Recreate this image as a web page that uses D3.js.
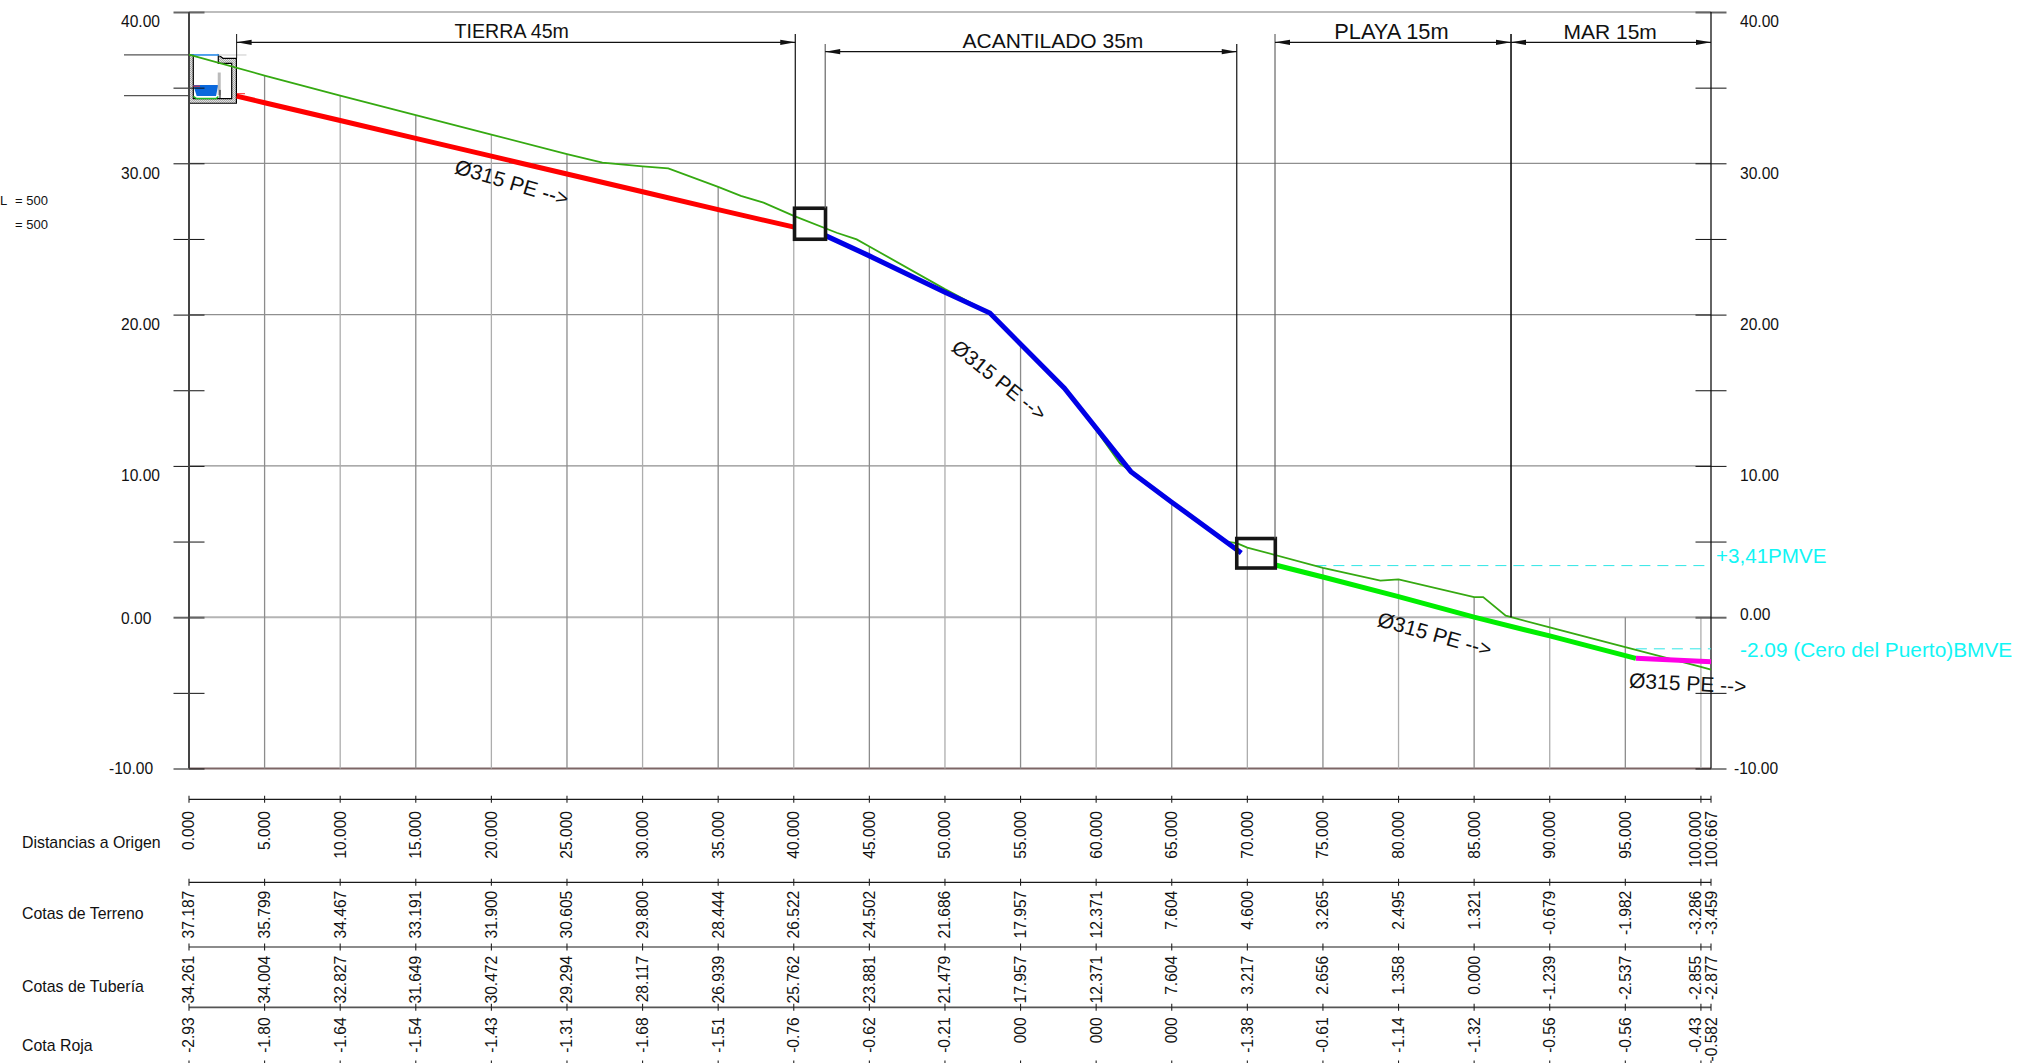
<!DOCTYPE html>
<html>
<head>
<meta charset="utf-8">
<script src="https://cdn.jsdelivr.net/npm/d3@7"></script>
<style>
html,body{margin:0;padding:0;background:#fff;overflow:hidden}
text{font-family:"Liberation Sans",Arial,sans-serif;fill:#111}
</style>
</head>
<body>
<svg id="c" width="2018" height="1063"></svg>
<script>
// ---- table data ----
const distances = [0,5,10,15,20,25,30,35,40,45,50,55,60,65,70,75,80,85,90,95,100,100.667];
const distLabels = ["0.000","5.000","10.000","15.000","20.000","25.000","30.000","35.000","40.000","45.000","50.000","55.000","60.000","65.000","70.000","75.000","80.000","85.000","90.000","95.000","100.000","100.667"];
const terrainLabels = ["37.187","35.799","34.467","33.191","31.900","30.605","29.800","28.444","26.522","24.502","21.686","17.957","12.371","7.604","4.600","3.265","2.495","1.321","-0.679","-1.982","-3.286","-3.459"];
const pipeLabels = ["34.261","34.004","32.827","31.649","30.472","29.294","28.117","26.939","25.762","23.881","21.479","17.957","12.371","7.604","3.217","2.656","1.358","0.000","-1.239","-2.537","-2.855","-2.877"];
const redLabels = ["-2.93","-1.80","-1.64","-1.54","-1.43","-1.31","-1.68","-1.51","-0.76","-0.62","-0.21","000","000","000","-1.38","-0.61","-1.14","-1.32","-0.56","-0.56","-0.43","-0.582"];
const rowNames = ["Distancias a Origen","Cotas de Terreno","Cotas de Tubería","Cota Roja"];

// ---- profile data: [distance m, elevation m] ----
const terrain = [[0,37.187],[5,35.799],[10,34.467],[15,33.191],[20,31.9],[25,30.605],[27.34,30.04],[30,29.8],[31.7,29.67],[35,28.444],[36.5,27.85],[38,27.4],[40,26.522],[42.84,25.41],[44.16,24.97],[45,24.502],[50,21.686],[52.97,20.1],[55,17.957],[57.9,15.13],[60,12.371],[61.57,10.17],[62.3,9.62],[65,7.604],[68.6,5.0],[69.3,4.9],[70,4.6],[75,3.265],[78.8,2.42],[80,2.495],[85,1.321],[85.6,1.33],[87.09,0.1],[90,-0.679],[95,-1.982],[100,-3.286],[100.667,-3.459]];
const pipeRed = [[3.15,34.44],[5,34.004],[10,32.827],[15,31.649],[20,30.472],[25,29.294],[30,28.117],[35,26.939],[40.1,25.762]];
const pipeBlue = [[42.1,25.22],[45,23.881],[50,21.479],[52.97,20.1],[57.9,15.13],[62.3,9.62],[65,7.604],[69.6,4.25]];
const pipeGreen = [[71.85,3.45],[75,2.656],[80,1.358],[85,0],[90,-1.239],[95.7,-2.72]];
const pipeMagenta = [[95.7,-2.72],[100.667,-2.95]];
const chamberBoxes = [[40.05,42.1,27.03,24.98],[69.3,71.85,5.2,3.25]];

// ---- reference levels ----
const levels = [{v:3.41,from:74.5,label:"+3,41PMVE"},{v:-2.09,from:95.7,label:"-2.09 (Cero del Puerto)BMVE"}];

// ---- dimension spans ----
const spans = [
 {a:3.15,b:40.1,at:21.35,label:"TIERRA 45m",low:false,size:19.6},
 {a:42.08,b:69.3,at:57.14,label:"ACANTILADO 35m",low:true,size:21},
 {a:71.83,b:87.44,at:79.53,label:"PLAYA 15m",low:false,size:21.8},
 {a:87.44,b:100.667,at:94.0,label:"MAR 15m",low:false,size:21}];

// ---- axis ----
const majorTicks = [40,30,20,10,0,-10];
const majorLabels = ["40.00","30.00","20.00","10.00","0.00","-10.00"];
const invertLevels = [37.16,34.47];

// ---- chamber section (distance m, elevation m) ----
const wall = [[0,37.16],[0.284,37.16],[0.284,34.28],[2.824,34.28],[2.824,36.61],[1.938,36.61],[1.938,37.16],[2.249,36.94],[3.135,36.94],[3.135,33.97],[0,33.97]];
const water = [[0.284,35.175],[1.938,35.175],[1.786,34.45],[0.51,34.45]];
const sump = [[0.284,34.42],[0.5,34.28],[1.8,34.28],[1.94,34.42]];
const chamberTop = [[0,37.16],[1.98,37.16]];
const chamberTopExt = [[1.98,37.16],[3.8,37.16]];
const innerPipe = [[2,36],[2,34.5]];
const innerStop = [[2.05,34.85],[2.05,34.28]];
const redMarks = [[[0.284,35.1],[0.73,35.1]],[[3.15,34.6],[3.7,34.6]]];

// ---- pipe labels ----
const pipeNotes = [
 {x:21.35,y:28.73,r:16.5,size:21,t:"Ø315 PE -->"},
 {x:53.6,y:15.67,r:39,size:20.5,t:"Ø315 PE -->"},
 {x:82.4,y:-1.13,r:15.5,size:21,t:"Ø315 PE -->"},
 {x:99.13,y:-4.37,r:3,size:21,t:"Ø315 PE -->"}];

const svg = d3.select("#c");
const x = d3.scaleLinear().domain([0,100.667]).range([189,1711]);
const y = d3.scaleLinear().domain([-10,40]).range([768.5,12]);
const line = d3.line().x(d=>x(d[0])).y(d=>y(d[1]));

svg.append("rect").attr("width",2018).attr("height",1063).attr("fill","#fff");

// horizontal grid
const gridCol = v => v===40 ? "#bdbdbd" : v===0 ? "#b4b4b4" : "#8f8f8f";
svg.append("g").selectAll("line").data(majorTicks.filter(v=>v!==-10)).join("line")
  .attr("x1",x(0)).attr("x2",x(100.667)).attr("y1",d=>y(d)).attr("y2",d=>y(d))
  .attr("stroke",gridCol).attr("stroke-width",d=>(d===40||d===0)?2:1.3);
svg.append("line").attr("x1",x(0)).attr("x2",x(100.667)).attr("y1",y(-10)).attr("y2",y(-10))
  .attr("stroke","#7d6666").attr("stroke-width",2);

// vertical grid, from the ground (or the zero line) down
const elev = d3.scaleLinear().domain(terrain.map(d=>d[0])).range(terrain.map(d=>d[1]));
svg.append("g").selectAll("line").data(distances.slice(1,-1)).join("line")
  .attr("x1",d=>x(d)).attr("x2",d=>x(d)).attr("y1",d=>y(Math.max(elev(d),0))).attr("y2",y(-10))
  .attr("stroke",(d,i)=>i%2?"#adadad":"#8c8c8c").attr("stroke-width",1.3);

// chamber section
const defs = svg.append("defs");
const pat = defs.append("pattern").attr("id","stip").attr("width",2).attr("height",2).attr("patternUnits","userSpaceOnUse");
pat.append("rect").attr("width",2).attr("height",2).attr("fill","#e2e2e2");
pat.append("rect").attr("width",1).attr("height",1).attr("fill","#aaa");
pat.append("rect").attr("x",1).attr("y",1).attr("width",1).attr("height",1).attr("fill","#aaa");
svg.append("path").attr("d",line(wall)+"Z").attr("fill","url(#stip)").attr("stroke","#000").attr("stroke-width",1.2);
svg.append("path").attr("d",line(water)+"Z").attr("fill","#0a68dc");
svg.append("path").attr("d",line(sump)).attr("fill","none").attr("stroke","#22b922").attr("stroke-width",1.5);
svg.append("path").attr("d",line(chamberTop)).attr("fill","none").attr("stroke","#2a8ce8").attr("stroke-width",1.6);
svg.append("path").attr("d",line(chamberTopExt)).attr("fill","none").attr("stroke","#ddd").attr("stroke-width",1.6);
svg.append("path").attr("d",line(innerPipe)).attr("fill","none").attr("stroke","#bbb").attr("stroke-width",3);
svg.append("path").attr("d",line(innerStop)).attr("fill","none").attr("stroke","#111").attr("stroke-width",1);
svg.append("g").selectAll("path").data(redMarks).join("path").attr("d",d=>line(d)).attr("stroke","#f22").attr("stroke-width",1);

// left and right tick marks through the library's axes
function ticksAt(px, vals, col, w){
  const g = svg.append("g").attr("transform",`translate(${px},0)`)
    .call(d3.axisLeft(y).tickValues(vals).tickSize(31).tickFormat(""));
  g.select(".domain").remove();
  g.selectAll("line").attr("stroke",col).attr("stroke-width",w);
}
ticksAt(x(0)+15.5,[30,20,10,35,25,15,5,-5,-10],"#111",1);
ticksAt(x(100.667)+15.5,[30,20,10,35,25,15,5,-5,-10],"#111",1);
ticksAt(x(0)+15.5,[40,0],"#666",2);
ticksAt(x(100.667)+15.5,[40,0],"#666",2);

// left-hand level leaders
svg.append("g").selectAll("line").data(invertLevels).join("line")
  .attr("x1",124).attr("x2",x(0)).attr("y1",d=>y(d)).attr("y2",d=>y(d))
  .attr("stroke","#555").attr("stroke-width",1.2);

// axes verticals
svg.append("line").attr("x1",x(0)).attr("x2",x(0)).attr("y1",y(40)).attr("y2",y(-10)).attr("stroke","#444").attr("stroke-width",2);
svg.append("line").attr("x1",x(100.667)).attr("x2",x(100.667)).attr("y1",y(40)).attr("y2",y(-10)).attr("stroke","#111").attr("stroke-width",1.3);

// axis labels
const leftOffset = v => v===0 ? 1 : v===-10 ? 0 : 10;
const rightOffset = v => v===0 ? -2.5 : v===-10 ? 0 : 10;
svg.append("g").selectAll("text").data(majorTicks).join("text")
  .attr("x",d=>d===-10?109:121).attr("y",d=>y(d)+leftOffset(d)).attr("dy",".35em")
  .attr("font-size",15.6).text((d,i)=>majorLabels[i]);
svg.append("g").selectAll("text").data(majorTicks).join("text")
  .attr("x",d=>d===-10?1734:1740).attr("y",d=>y(d)+rightOffset(d)).attr("dy",".35em")
  .attr("font-size",15.6).text((d,i)=>majorLabels[i]);

// reference levels
svg.append("g").selectAll("line").data(levels).join("line")
  .attr("x1",d=>x(d.from)).attr("x2",x(100.667)).attr("y1",d=>y(d.v)).attr("y2",d=>y(d.v))
  .attr("stroke","#2ee6e6").attr("stroke-width",1).attr("stroke-dasharray","11 7");
svg.append("text").attr("x",1716).attr("y",556).attr("dy",".35em").attr("font-size",20.6)
  .style("fill","#11f5f5").text(levels[0].label);
svg.append("text").attr("x",1740).attr("y",649.5).attr("dy",".35em").attr("font-size",20.85)
  .style("fill","#11f5f5").text(levels[1].label);

// terrain
svg.append("path").attr("d",line(terrain)).attr("fill","none").attr("stroke","#35a911").attr("stroke-width",1.8);

// pipes
[[pipeRed,"#ff0000",5],[pipeBlue,"#0000e6",5],[pipeGreen,"#00ee00",5],[pipeMagenta,"#ff00e6",5]].forEach(p=>{
  svg.append("path").attr("d",line(p[0])).attr("fill","none").attr("stroke",p[1]).attr("stroke-width",p[2]);
});

// chamber boxes
svg.append("g").selectAll("rect").data(chamberBoxes).join("rect")
  .attr("x",d=>x(d[0])).attr("y",d=>y(d[2])).attr("width",d=>x(d[1])-x(d[0])).attr("height",d=>y(d[3])-y(d[2]))
  .attr("fill","none").attr("stroke","#161616").attr("stroke-width",3.6);

// dimensions
const dimG = svg.append("g");
const tops = {hi:34,lo:44};
const bottoms = [[40.1,27.03],[42.08,27.03],[69.3,5.2],[71.83,5.2],[87.44,0]];
function extTop(m){ return (m===42.08||m===69.3)?tops.lo:tops.hi; }
dimG.selectAll("line.ext").data(bottoms).join("line").attr("class","ext")
  .attr("x1",d=>x(d[0])).attr("x2",d=>x(d[0])).attr("y1",d=>extTop(d[0])).attr("y2",d=>y(d[1]))
  .attr("stroke",d=>d[0]===42.08||d[0]===71.83?"#666":"#111").attr("stroke-width",d=>d[0]===87.44?1.6:1.2);
dimG.append("line").attr("x1",x(3.15)).attr("x2",x(3.15)).attr("y1",tops.hi).attr("y2",y(36.94)).attr("stroke","#111").attr("stroke-width",1);
spans.forEach(s=>{
  const yy = s.low?51.7:42.3, a=x(s.a), b=x(s.b);
  dimG.append("line").attr("x1",a).attr("x2",b).attr("y1",yy).attr("y2",yy).attr("stroke","#111").attr("stroke-width",1.2);
  dimG.append("path").attr("d",d3.line()([[a,yy],[a+15,yy-2.6],[a+15,yy+2.6]])+"Z").attr("fill","#111");
  dimG.append("path").attr("d",d3.line()([[b,yy],[b-15,yy-2.6],[b-15,yy+2.6]])+"Z").attr("fill","#111");
  dimG.append("text").attr("x",x(s.at)).attr("y",yy-10.8).attr("dy",".35em").attr("text-anchor","middle").attr("font-size",s.size).text(s.label);
});

// pipe notes
svg.append("g").selectAll("text").data(pipeNotes).join("text")
  .attr("text-anchor","middle").attr("dy",".35em").attr("font-size",d=>d.size)
  .attr("transform",d=>`translate(${x(d.x)},${y(d.y)}) rotate(${d.r})`).text(d=>d.t);

// side note
svg.append("text").attr("x",0).attr("y",200).attr("dy",".35em").attr("font-size",13).text("L");
svg.append("text").attr("x",15).attr("y",200).attr("dy",".35em").attr("font-size",13).text("= 500");
svg.append("text").attr("x",15).attr("y",224.7).attr("dy",".35em").attr("font-size",13).text("= 500");

// table
const rowLineY = [799.3,882.3,947,1007.3];
const rowLabelTop = [811,890.7,955.8,1017.3];
const rowNameY = [842,913.7,986,1045.7];
const rowTexts = [distLabels,terrainLabels,pipeLabels,redLabels];
rowLineY.forEach((ry,r)=>{
  svg.append("line").attr("x1",x(0)).attr("x2",x(100.667)).attr("y1",ry).attr("y2",ry)
    .attr("stroke",r===3?"#555":"#1a1a1a").attr("stroke-width",r===3?1.8:1.2);
  svg.append("g").selectAll("line").data(distances).join("line")
    .attr("x1",d=>x(d)).attr("x2",d=>x(d)).attr("y1",ry-3.5).attr("y2",ry+3.5).attr("stroke","#222").attr("stroke-width",1.1);
  svg.append("g").selectAll("text").data(distances).join("text")
    .attr("text-anchor","end").attr("dy",".35em").attr("font-size",15.6)
    .attr("transform",(d,i)=>`translate(${x(d)+(i===distances.length-2?-5.5:(i===distances.length-1?1:0))},${rowLabelTop[r]}) rotate(-90)`)
    .text((d,i)=>rowTexts[r][i]);
  svg.append("text").attr("x",22).attr("y",rowNameY[r]).attr("dy",".35em").attr("font-size",15.9).text(rowNames[r]);
});
// closing tick row, cut by the picture edge
svg.append("g").selectAll("line").data(distances).join("line")
  .attr("x1",d=>x(d)).attr("x2",d=>x(d)).attr("y1",1060.5).attr("y2",1063).attr("stroke","#222").attr("stroke-width",1.1);
</script>
</body>
</html>
